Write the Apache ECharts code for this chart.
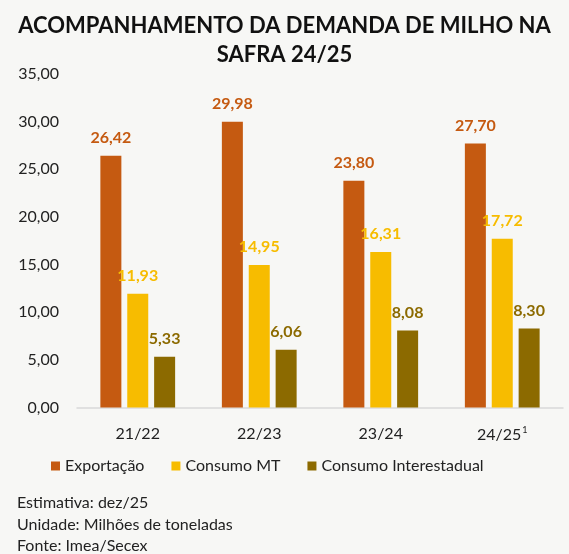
<!DOCTYPE html>
<html>
<head>
<meta charset="utf-8">
<script src="https://cdn.jsdelivr.net/npm/echarts@6/dist/echarts.min.js"></script>
<style>
html,body{margin:0;padding:0;background:#f7f7f5;}
#c{width:569px;height:554px;}
</style>
</head>
<body>
<div id="c"></div>
<script>
const categories = ['21/22', '22/23', '23/24', '24/25'];
const exportacao = [26.42, 29.98, 23.80, 27.70];
const consumoMT = [11.93, 14.95, 16.31, 17.72];
const consumoInter = [5.33, 6.06, 8.08, 8.30];
const seriesNames = ['Exportação', 'Consumo MT', 'Consumo Interestadual'];
const colors = ['#c55a11', '#f7bc00', '#8c6a00'];
const titleText = 'ACOMPANHAMENTO DA DEMANDA DE MILHO NA\nSAFRA 24/25';
const notes = ['Estimativa: dez/25', 'Unidade: Milhões de toneladas', 'Fonte: Imea/Secex'];

const FONT = 'Lato';
const fmt = v => v.toFixed(2).replace('.', ',');

function mkSeries(name, data, color) {
  return {
    name: name,
    type: 'bar',
    data: data,
    barWidth: 21,
    barGap: '28%',
    itemStyle: { color: color },
    label: {
      show: true,
      position: 'top',
      distance: 10,
      color: color,
      fontFamily: FONT,
      fontWeight: 'bold',
      fontSize: 16,
      formatter: p => fmt(p.value)
    }
  };
}

const chart = echarts.init(document.getElementById('c'));
chart.setOption({
  backgroundColor: '#f7f7f5',
  animation: false,
  title: {
    text: titleText,
    left: 'center',
    top: 6,
    textStyle: { fontFamily: FONT, fontWeight: 'bold', fontSize: 22, color: '#111', lineHeight: 29 }
  },
  grid: { left: 77, right: 6, top: 74, bottom: 146.5 },
  legend: {
    data: seriesNames,
    top: 453,
    left: 46,
    icon: 'rect',
    itemWidth: 9,
    itemHeight: 9,
    itemGap: 27,
    textStyle: { fontFamily: FONT, fontSize: 16, color: '#222' }
  },
  xAxis: {
    type: 'category',
    data: categories,
    axisLine: { lineStyle: { color: '#d9d9d9', width: 1.5 } },
    axisTick: { show: false },
    axisLabel: {
      margin: 18,
      fontFamily: FONT,
      fontSize: 16,
      color: '#222',
      formatter: v => v === '24/25' ? v + '{sup|1}' : v,
      rich: { sup: { fontSize: 9, verticalAlign: 'top', padding: [0, 0, 10, 1], color: '#222', fontFamily: FONT } }
    }
  },
  yAxis: {
    type: 'value',
    min: 0,
    max: 35,
    interval: 5,
    splitLine: { show: false },
    axisLine: { show: false },
    axisTick: { show: false },
    axisLabel: {
      margin: 18,
      fontFamily: FONT,
      fontSize: 16,
      color: '#222',
      formatter: v => fmt(v)
    }
  },
  graphic: notes.map((t, i) => ({
    type: 'text',
    left: 17,
    top: 495 + i * 21.5,
    style: { text: t, fontFamily: FONT, fontSize: 16, fill: '#222' }
  })),
  series: [
    mkSeries(seriesNames[0], exportacao, colors[0]),
    mkSeries(seriesNames[1], consumoMT, colors[1]),
    mkSeries(seriesNames[2], consumoInter, colors[2])
  ]
});
</script>
</body>
</html>
